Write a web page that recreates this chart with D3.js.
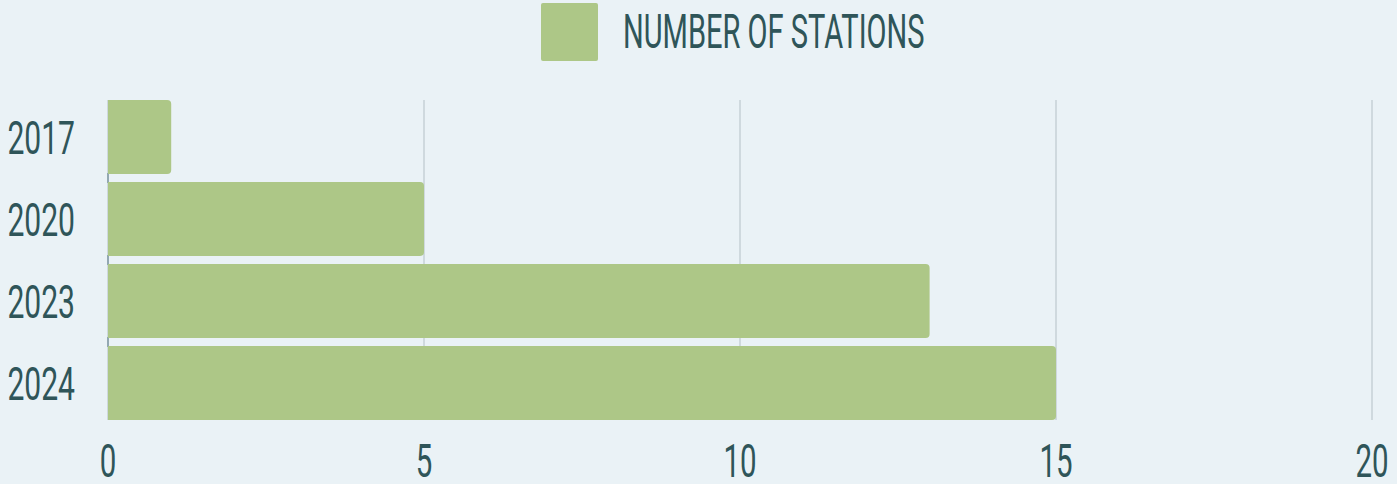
<!DOCTYPE html>
<html>
<head>
<meta charset="utf-8">
<script src="https://cdn.jsdelivr.net/npm/d3@7"></script>
<style>
  html, body { margin: 0; padding: 0; background: #EAF2F6; }
  svg { display: block; }
  text { font-family: Roboto, "Noto Sans", sans-serif; fill: #2F5559; }
</style>
</head>
<body>
<svg id="chart" width="1397" height="484"></svg>
<script>
const categories = ["2017", "2020", "2023", "2024"];
const stations = [1, 5, 13, 15];
const xTicks = [0, 5, 10, 15, 20];
const seriesName = "NUMBER OF STATIONS";

const W = 1397, H = 484;
const svg = d3.select("#chart");
svg.append("rect").attr("width", W).attr("height", H).attr("fill", "#EAF2F6");

function condensed(sel, x, y, anchor, sx) {
  sel.attr("text-anchor", anchor)
     .attr("transform", `translate(${x},${y}) scale(${sx},1)`);
  return sel;
}

const x = d3.scaleLinear().domain([0, 20]).range([108, 1372]);
const y = d3.scaleBand().domain(categories).range([96, 424]).paddingInner(0.1).paddingOuter(0.05);

const gridTop = 100, gridBottom = 420;

// grid lines
const g = svg.append("g");
g.selectAll("line.grid").data(xTicks.slice(1)).join("line")
  .attr("class", "grid")
  .attr("x1", d => x(d)).attr("x2", d => x(d))
  .attr("y1", gridTop).attr("y2", gridBottom)
  .attr("stroke", "#C6D1D6").attr("stroke-width", 1.5);

// y axis line
g.append("line")
  .attr("x1", x(0)).attr("x2", x(0)).attr("y1", gridTop).attr("y2", gridBottom)
  .attr("stroke", "#C6D1D6").attr("stroke-width", 1.5);

// band boundary ticks
const bounds = categories.slice(1).map(c => y(c) - y.step() * y.paddingInner() / 2);
g.selectAll("line.btick").data(bounds).join("line")
  .attr("class", "btick")
  .attr("x1", x(0)).attr("x2", x(0))
  .attr("y1", d => d - 5).attr("y2", d => d + 5)
  .attr("stroke", "#7F97A3").attr("stroke-width", 1.5);

// bars with right-side rounded corners
const r = 4;
function barPath(x0, x1, y0, h) {
  const rr = Math.min(r, (x1 - x0) / 2, h / 2);
  return `M${x0},${y0} H${x1 - rr} Q${x1},${y0} ${x1},${y0 + rr} V${y0 + h - rr} Q${x1},${y0 + h} ${x1 - rr},${y0 + h} H${x0} Z`;
}
svg.append("g").selectAll("path").data(categories).join("path")
  .attr("d", (c, i) => barPath(x(0), x(stations[i]), y(c), y.bandwidth()))
  .attr("fill", "#ADC787");

// y labels
svg.append("g").selectAll("text").data(categories).join("text")
  .text(d => d)
  .attr("font-size", 47)
  .each(function (d) {
    condensed(d3.select(this), 75, y(d) + y.bandwidth() / 2 + 16.5, "end", 0.64);
  });

// x labels
svg.append("g").selectAll("text").data(xTicks).join("text")
  .text(d => d)
  .attr("font-size", 46)
  .each(function (d) {
    condensed(d3.select(this), x(d), 477, "middle", 0.64);
  });

// legend
svg.append("rect")
  .attr("x", 541).attr("y", 3).attr("width", 57).attr("height", 58)
  .attr("rx", 2).attr("fill", "#ADC787");
condensed(svg.append("text").text(seriesName).attr("font-size", 48), 623, 48, "start", 0.605);
</script>
</body>
</html>
